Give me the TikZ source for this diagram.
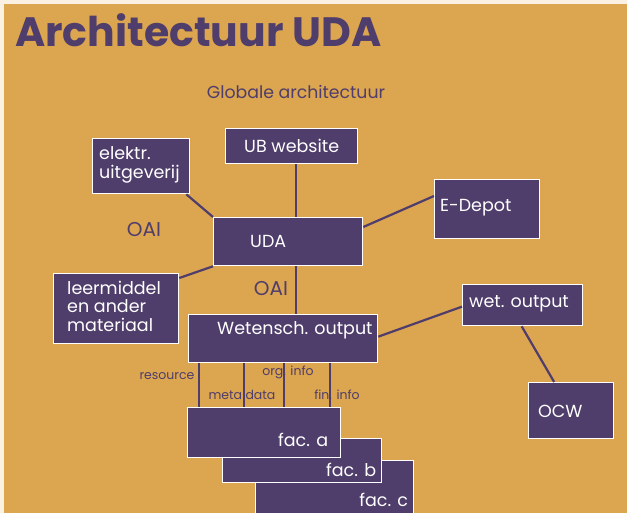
\documentclass[tikz,border=0pt]{standalone}
\usepackage{fontspec}
\setmainfont{Poppins}
\definecolor{bg}{HTML}{DCA550}
\definecolor{pur}{HTML}{4F3D6B}
\definecolor{cream}{HTML}{FBF1E3}
\tikzset{
  box/.style={draw=white, line width=1.3pt, fill=pur, rectangle, inner sep=0pt, anchor=north west},
  bt/.style={text=white, inner sep=0pt, font=\fontsize{17.5}{18.5}\selectfont, align=left},
  lab/.style={text=pur, inner sep=0pt, font=\fontsize{20}{22}\selectfont},
  small/.style={text=pur, inner sep=0pt, font=\fontsize{12.5}{14}\selectfont},
  conn/.style={draw=pur, line width=2.2pt},
}
\begin{document}
\begin{tikzpicture}[x=1pt,y=-1pt]
\useasboundingbox (0,0) rectangle (627,513);
\fill[cream] (0,0) rectangle (627,513);
\fill[bg] (4,4) rectangle (627,513);
\clip (0,0) rectangle (627,513);

\node[text=pur, inner sep=0pt, anchor=base west, font=\fontsize{41}{48}\selectfont\bfseries] (title) at (15,47) {Architectuur UDA};
\node[lab, font=\fontsize{17.3}{20}\selectfont] (glob) at (296,92) {Globale architectuur};

% boxes
\node[box, minimum width=132pt, minimum height=35pt, label={[bt]center:UB website}] (ub) at (225,128) {};
\node[box, minimum width=97pt, minimum height=55pt, label={[bt,anchor=west,xshift=7pt,yshift=1.5pt]west:elektr.\\uitgeverij}] (elektr) at (92,138) {};
\node[box, minimum width=149pt, minimum height=48pt, label={[bt,anchor=west,xshift=37pt]west:UDA}] (uda) at (213,217) {};
\node[box, minimum width=125pt, minimum height=70pt, label={[bt,anchor=west,xshift=14pt,yshift=2.5pt]west:leermiddel\\en ander\\materiaal}] (leer) at (53,273) {};
\node[box, minimum width=189pt, minimum height=48pt, label={[bt,anchor=west,xshift=29pt,yshift=8pt]west:Wetensch. output}] (wet) at (188,314) {};
\node[box, minimum width=105pt, minimum height=59pt, label={[bt,anchor=west,xshift=6pt,yshift=1.5pt]west:E-Depot}] (edepot) at (434,179) {};
\node[box, minimum width=120pt, minimum height=41pt, label={[bt,anchor=west,xshift=7pt,yshift=1.5pt]west:wet. output}] (wetout) at (462,284) {};
\node[box, minimum width=85pt, minimum height=56pt, label={[bt,anchor=west,xshift=10pt,yshift=-1pt]west:OCW}] (ocw) at (528,382) {};

\node[box, minimum width=158pt, minimum height=56pt, label={[bt,anchor=east,xshift=-6pt,yshift=-40pt]north east:fac. c}] (facc) at (255,460) {};
\node[box, minimum width=159pt, minimum height=44pt, label={[bt,anchor=east,xshift=-6pt,yshift=-32pt]north east:fac. b}] (facb) at (222,438) {};
\node[box, minimum width=153pt, minimum height=50pt, label={[bt,anchor=east,xshift=-13pt,yshift=-33pt]north east:fac. a}] (faca) at (187,407) {};

% labels
\node[lab] (oai1) at (144,230) {OAI};
\node[lab] (oai2) at (271,289) {OAI};
\node[small] (res) at (167,376) {resource};
\node[small] (meta) at (242,395) {meta data};
\node[small] (org) at (288,372) {org. info};
\node[small] (fin) at (337,395) {fin. info};

% connectors
\draw[conn] ([xshift=-4pt]elektr.south east) -- (uda.north west);
\draw[conn] ([yshift=-5pt]leer.north east) -- (uda.south west);
\draw[conn] ([xshift=4pt]ub.south) -- ([xshift=4pt]ub.south |- uda.north);
\draw[conn] ([yshift=-10pt]uda.north east) -- ([yshift=-17pt]edepot.north west);
\draw[conn] ([xshift=7.5pt]uda.south) -- ([xshift=7.5pt]uda.south |- wet.north);
\draw[conn] ([yshift=2pt]wet.east) -- ([yshift=-1.5pt]wetout.west);
\draw[conn] ([xshift=-1pt]wetout.south) -- ([xshift=-17pt]ocw.north);
\foreach \dx in {11,56,96,142}
  \draw[conn] ([xshift=\dx pt]wet.south west) -- ([xshift=\dx pt]wet.south west |- faca.north);
\end{tikzpicture}
\end{document}
